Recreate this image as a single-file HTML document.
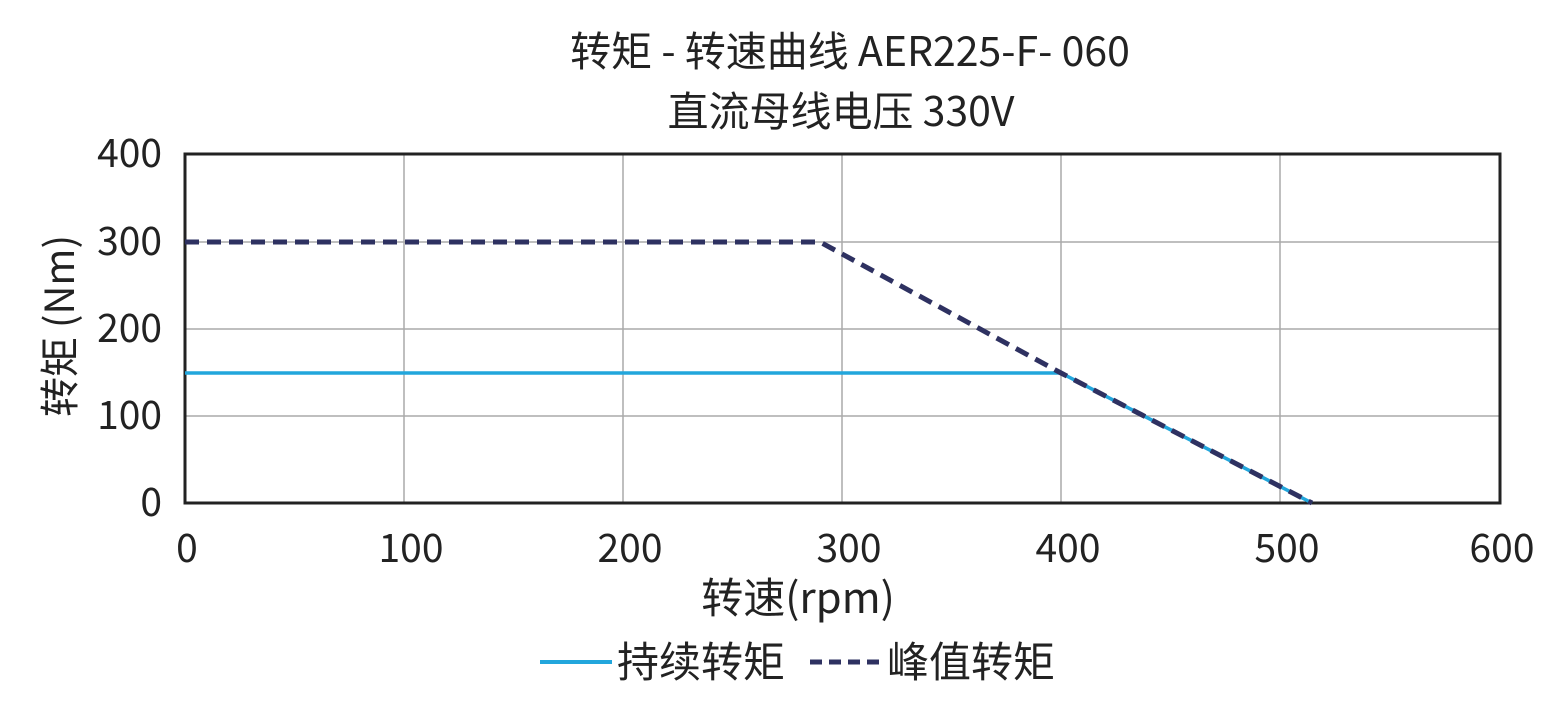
<!DOCTYPE html>
<html><head><meta charset="utf-8"><style>
html,body{margin:0;padding:0;background:#fff;}
svg text{font-family:"Noto Sans CJK SC","Liberation Sans",sans-serif;fill:#222;}
</style></head><body>
<svg width="1566" height="714" xmlns="http://www.w3.org/2000/svg">
<text x="850" y="66" font-size="41" text-anchor="middle">转矩 - 转速曲线 AER225-F- 060</text>
<text x="841" y="126" font-size="41" text-anchor="middle">直流母线电压 330V</text>
<g stroke="#aaa" stroke-width="1.5">
<line x1="404" y1="154" x2="404" y2="503"/><line x1="623" y1="154" x2="623" y2="503"/>
<line x1="842" y1="154" x2="842" y2="503"/><line x1="1061" y1="154" x2="1061" y2="503"/>
<line x1="1280" y1="154" x2="1280" y2="503"/>
<line x1="185" y1="242" x2="1500" y2="242"/><line x1="185" y1="329" x2="1500" y2="329"/>
<line x1="185" y1="416" x2="1500" y2="416"/>
</g>
<rect x="185" y="154" width="1315" height="349" fill="none" stroke="#222" stroke-width="3"/>
<polyline points="185,373 1061,373 1312,503" fill="none" stroke="#22a6dc" stroke-width="3.5"/>
<polyline points="185,242 820,242 1061,373 1312,503" fill="none" stroke="#2e3161" stroke-width="5" stroke-dasharray="14,8"/>
<g font-size="39" text-anchor="end">
<text x="162" y="167">400</text><text x="162" y="255">300</text><text x="162" y="342">200</text>
<text x="162" y="429">100</text><text x="162" y="516">0</text>
</g>
<g font-size="39" text-anchor="middle">
<text x="187" y="562">0</text><text x="411" y="562">100</text><text x="630" y="562">200</text>
<text x="849" y="562">300</text><text x="1068" y="562">400</text><text x="1287" y="562">500</text>
<text x="1502" y="562">600</text>
</g>
<text x="798" y="613" font-size="42" text-anchor="middle">转速(rpm)</text>
<text transform="translate(74,326) rotate(-90)" font-size="40" text-anchor="middle">转矩 (Nm)</text>
<line x1="540" y1="662" x2="612" y2="662" stroke="#22a6dc" stroke-width="4"/>
<text x="617" y="677" font-size="42">持续转矩</text>
<line x1="810" y1="662" x2="882" y2="662" stroke="#2e3161" stroke-width="5" stroke-dasharray="12,7"/>
<text x="887" y="677" font-size="42">峰值转矩</text>
</svg>
</body></html>
